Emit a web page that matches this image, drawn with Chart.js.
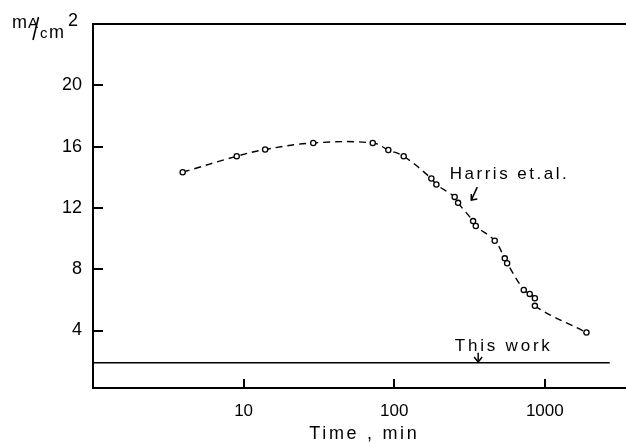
<!DOCTYPE html>
<html><head><meta charset="utf-8">
<script src="https://cdn.jsdelivr.net/npm/chart.js@4"></script>
<style>html,body{margin:0;padding:0;background:#fff}#wrap{width:626px;height:444px}</style>
</head><body><div id="wrap"><canvas id="c" width="626" height="444"></canvas></div>
<script>
const harrisTime = [3.94, 9.0, 13.9, 29.0, 72, 91.4, 115.6, 176.5, 190.5, 252, 265.5, 334, 348, 465, 542, 562, 725, 794, 859, 859, 1890];
const harrisCurrent = [14.33, 15.37, 15.81, 16.24, 16.24, 15.78, 15.37, 13.92, 13.53, 12.72, 12.33, 11.14, 10.82, 9.86, 8.71, 8.39, 6.65, 6.39, 6.11, 5.61, 3.87];
const thisWorkTime = [1, 2700];
const thisWorkCurrent = [1.9, 1.9];
const xTicks = [10, 100, 1000];
const yTicks = [4, 8, 12, 16, 20];

const FONT = "'Liberation Sans', Arial, sans-serif";

function spaced(ctx, text, cx, cy, spacing) {
  ctx.letterSpacing = spacing + 'px';
  const w = ctx.measureText(text).width - spacing;
  ctx.textAlign = 'left';
  ctx.textBaseline = 'middle';
  ctx.fillText(text, cx - w / 2, cy);
  ctx.letterSpacing = '0px';
}

const decor = {
  id: 'decor',
  afterDraw(chart) {
    const {ctx, chartArea: a, scales: {x, y}} = chart;
    ctx.save();
    ctx.strokeStyle = '#000';
    ctx.fillStyle = '#000';
    ctx.lineWidth = 2;
    ctx.beginPath();
    ctx.moveTo(a.right, a.top); ctx.lineTo(a.left, a.top);
    ctx.lineTo(a.left, a.bottom); ctx.lineTo(a.right, a.bottom);
    ctx.stroke();
    ctx.beginPath();
    yTicks.forEach(v => { const p = Math.round(y.getPixelForValue(v)); ctx.moveTo(a.left, p); ctx.lineTo(a.left + 10, p); });
    xTicks.forEach(v => { const p = Math.round(x.getPixelForValue(v)); ctx.moveTo(p, a.bottom); ctx.lineTo(p, a.bottom - 9); });
    ctx.stroke();

    // y unit label  mA/cm^2
    ctx.textBaseline = 'alphabetic';
    ctx.textAlign = 'left';
    ctx.font = '18px ' + FONT;
    ctx.fillText('m', 12, 28);
    ctx.font = '15px ' + FONT;
    ctx.fillText('A', 28, 28);
    ctx.fillText('c', 40, 38);
    ctx.font = '18px ' + FONT;
    ctx.fillText('m', 49, 38);
    ctx.fillText('2', 68, 26);
    ctx.lineWidth = 1.6;
    ctx.beginPath(); ctx.moveTo(38.5, 17); ctx.lineTo(33, 40); ctx.stroke();

    // x title
    ctx.font = '18px ' + FONT;
    spaced(ctx, 'Time , min', 363, 434, 2.7);

    // Harris label
    ctx.font = '17px ' + FONT;
    spaced(ctx, 'Harris et.al.', x.getPixelForValue(572), y.getPixelForValue(14.2), 2.5);
    const ax1 = x.getPixelForValue(356), ay1 = y.getPixelForValue(13.36);
    const ax2 = x.getPixelForValue(325), ay2 = y.getPixelForValue(12.51);
    ctx.lineWidth = 1.5;
    ctx.beginPath(); ctx.moveTo(ax1, ay1); ctx.lineTo(ax2, ay2); ctx.stroke();
    ctx.beginPath(); ctx.moveTo(ax2, ay2 - 6); ctx.lineTo(ax2, ay2); ctx.lineTo(ax2 + 6, ay2 - 1); ctx.stroke();

    // This work label
    spaced(ctx, 'This work', x.getPixelForValue(522), y.getPixelForValue(3.0), 2.8);
    const bx = x.getPixelForValue(361);
    const by1 = y.getPixelForValue(2.55), by2 = y.getPixelForValue(1.95);
    ctx.beginPath(); ctx.moveTo(bx, by1); ctx.lineTo(bx, by2); ctx.stroke();
    ctx.beginPath(); ctx.moveTo(bx - 4, by2 - 5); ctx.lineTo(bx, by2); ctx.lineTo(bx + 4, by2 - 5); ctx.stroke();
    ctx.restore();
  }
};

new Chart(document.getElementById('c'), {
  type: 'line',
  data: {
    datasets: [
      {
        data: harrisTime.map((t, i) => ({x: t, y: harrisCurrent[i]})),
        borderColor: '#000',
        borderWidth: 1.4,
        borderDash: [7, 5],
        tension: 0.4,
        pointRadius: 2.6,
        pointBorderWidth: 1.3,
        pointBorderColor: '#000',
        pointBackgroundColor: '#fff',
        fill: false
      },
      {
        data: thisWorkTime.map((t, i) => ({x: t, y: thisWorkCurrent[i]})),
        borderColor: '#000',
        borderWidth: 1.5,
        pointRadius: 0,
        fill: false
      }
    ]
  },
  options: {
    responsive: false,
    animation: false,
    devicePixelRatio: 1,
    layout: {autoPadding: false, padding: {top: 24, right: 0, left: 0, bottom: 0}},
    plugins: {legend: {display: false}, tooltip: {enabled: false}},
    scales: {
      x: {
        type: 'logarithmic', min: 1, max: 3460, position: 'bottom',
        afterBuildTicks: s => { s.ticks = xTicks.map(v => ({value: v})); },
        afterFit: s => { s.height = 56; s.paddingLeft = 0; s.paddingRight = 0; },
        grid: {display: true, drawOnChartArea: false, drawTicks: false},
        border: {display: false},
        ticks: {color: '#000', font: {family: FONT, size: 17}, padding: 13, maxRotation: 0, autoSkip: false,
                callback: v => String(v)}
      },
      y: {
        type: 'linear', min: 0.25, max: 24,
        afterBuildTicks: s => { s.ticks = yTicks.map(v => ({value: v})); },
        afterFit: s => { s.width = 93; s.paddingTop = 0; s.paddingBottom = 0; },
        grid: {display: true, drawOnChartArea: false, drawTicks: false},
        border: {display: false},
        ticks: {color: '#000', font: {family: FONT, size: 18}, padding: 11, callback: v => String(v)}
      }
    }
  },
  plugins: [decor]
});
</script>
</body></html>
